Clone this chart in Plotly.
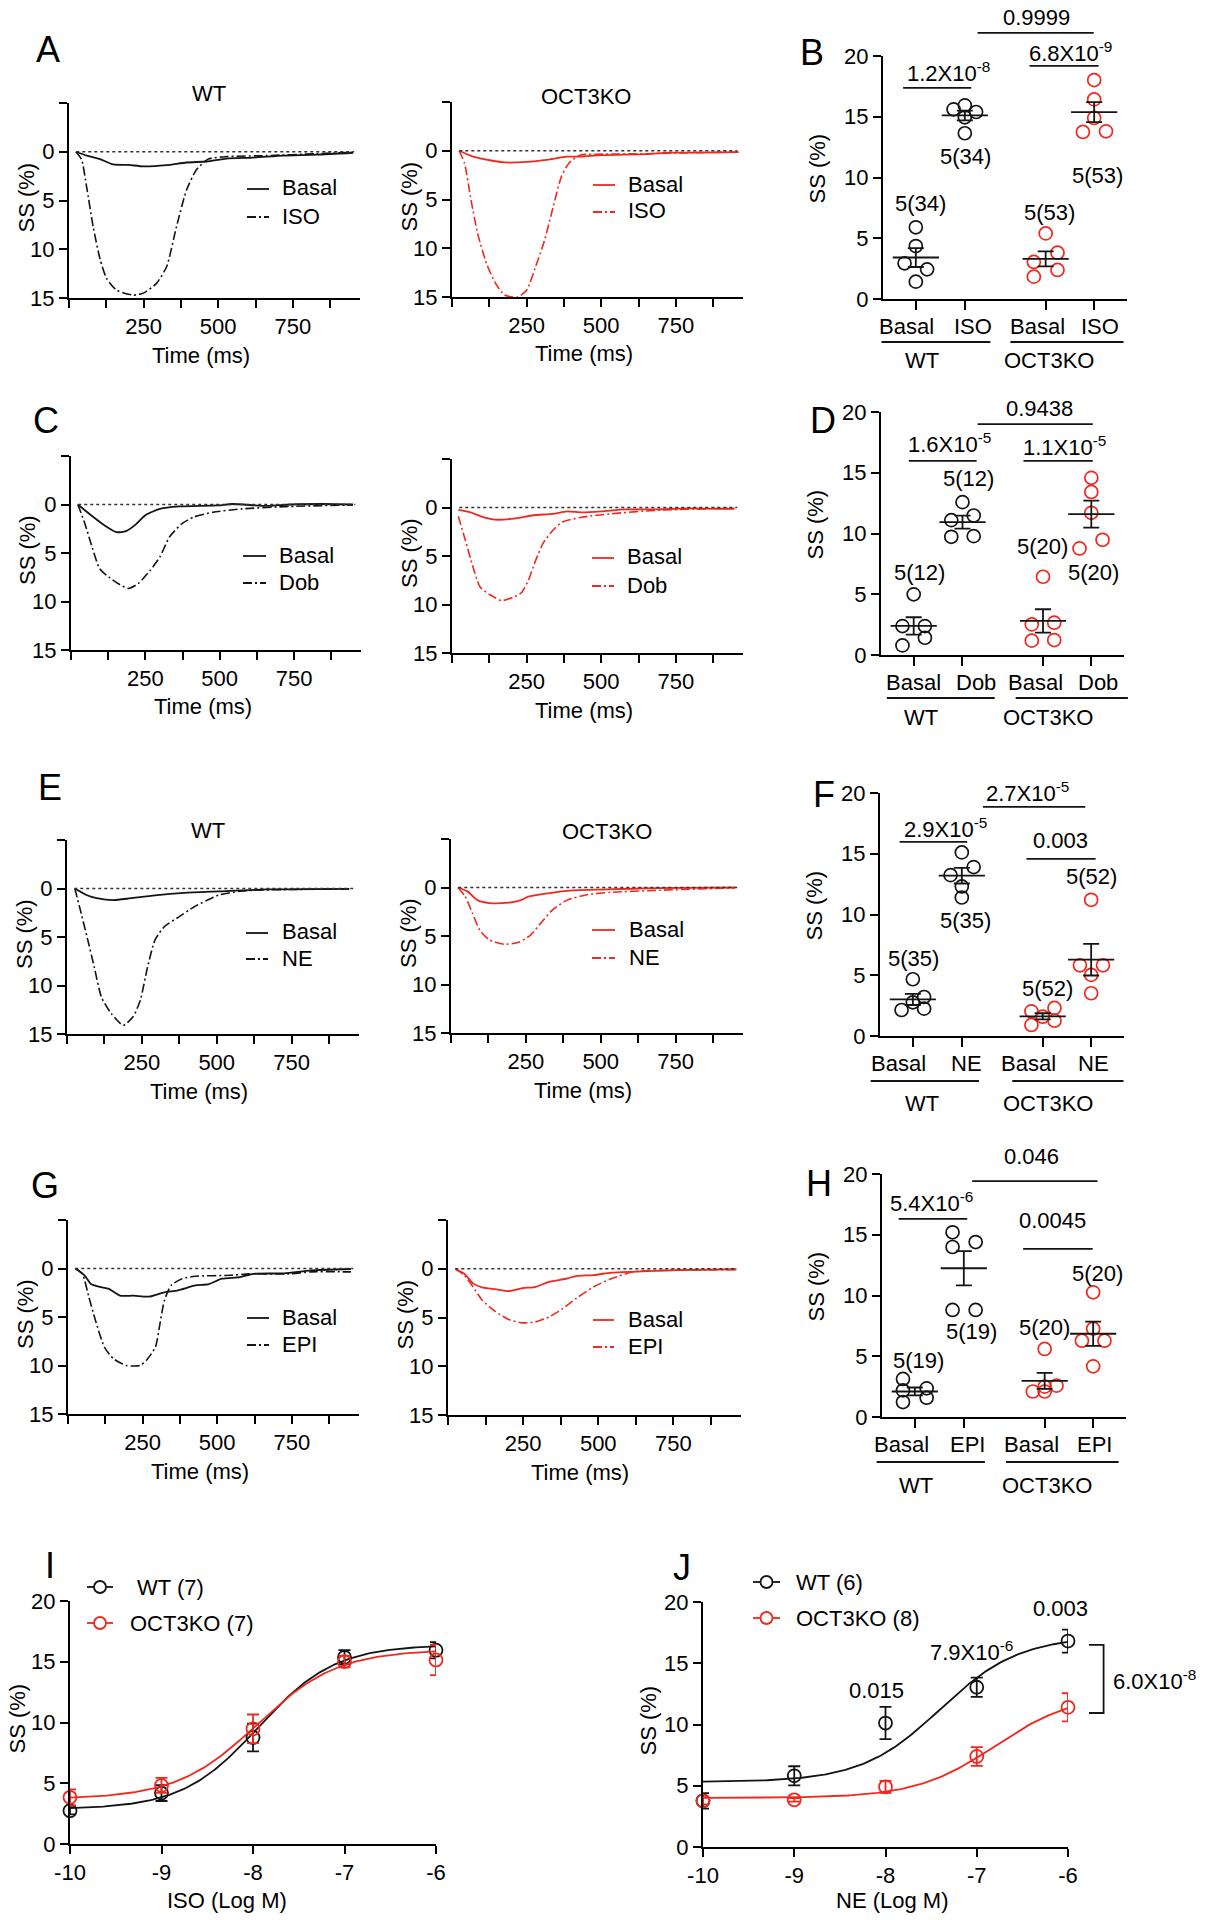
import numpy as np
import plotly.graph_objects as go

W, H = 1211, 1920
BLACK = '#141414'
RED = '#f0281e'
FONT = 'Liberation Sans, Arial, Helvetica, sans-serif'
FS = 22
DASHDOT = '9px,3px,2px,3px'

# ---------------- time-course data (Time ms, SS %) ----------------
A_WT_BASAL_T = [23, 60, 104, 148, 200, 249, 327, 394, 461, 528, 617, 718, 829, 952]
A_WT_BASAL = [0, 0.4, 0.75, 1.3, 1.35, 1.5, 1.37, 1.1, 1.0, 0.7, 0.6, 0.4, 0.3, 0.1]
A_WT_ISO_T = [23, 42, 59, 81, 104, 126, 160, 215, 249, 293, 327, 360, 394, 427, 467, 528, 662, 829, 960]
A_WT_ISO = [0, 0.8, 3.6, 7.7, 11.0, 13.0, 14.2, 14.7, 14.5, 13.5, 11.8, 7.7, 3.9, 1.85, 0.75, 0.5, 0.4, 0.2, 0.05]
A_KO_BASAL_T = [24, 71, 131, 176, 250, 324, 384, 429, 503, 652, 726, 815, 960]
A_KO_BASAL = [0, 0.6, 1.0, 1.2, 1.15, 0.9, 0.6, 0.6, 0.45, 0.35, 0.2, 0.2, 0.15]
A_KO_ISO_T = [24, 42, 64, 86, 116, 146, 176, 220, 250, 280, 310, 339, 366, 391, 429, 503, 650, 800, 960]
A_KO_ISO = [0, 1.3, 5.1, 8.5, 11.6, 13.6, 14.8, 15.0, 14.3, 11.9, 9.2, 5.75, 2.7, 1.3, 0.45, 0.35, 0.3, 0.2, 0.15]

C_WT_BASAL_T = [23, 55, 88, 120, 153, 185, 218, 250, 299, 364, 494, 542, 656, 737, 851, 948]
C_WT_BASAL = [0, 0.8, 1.6, 2.3, 2.85, 2.75, 2.05, 1.1, 0.45, 0.2, 0.1, -0.05, 0.15, 0, -0.05, 0]
C_WT_DOB_T = [23, 47, 71, 96, 128, 161, 193, 226, 266, 299, 331, 372, 412, 477, 575, 737, 948]
C_WT_DOB = [0, 2.0, 4.4, 6.6, 7.5, 8.2, 8.65, 8.15, 6.8, 5.4, 3.35, 2.0, 1.3, 0.8, 0.45, 0.2, 0.05]
C_KO_BASAL_T = [21, 62, 110, 143, 208, 273, 338, 386, 435, 500, 581, 679, 792, 946]
C_KO_BASAL = [0.25, 0.5, 1.05, 1.25, 1.15, 0.8, 0.65, 0.4, 0.5, 0.4, 0.2, 0.2, 0.1, 0.15]
C_KO_DOB_T = [21, 45, 70, 94, 127, 167, 208, 232, 256, 281, 305, 338, 370, 435, 532, 679, 946]
C_KO_DOB = [0.9, 3.4, 6.1, 8.2, 9.0, 9.6, 9.2, 8.8, 7.5, 5.4, 3.7, 2.35, 1.5, 1.0, 0.65, 0.3, 0.07]

E_WT_BASAL_T = [26, 67, 99, 156, 213, 294, 391, 505, 667, 943]
E_WT_BASAL = [0, 0.7, 1.0, 1.2, 1.0, 0.7, 0.45, 0.3, 0.1, 0.03]
E_WT_NE_T = [26, 42, 67, 91, 115, 148, 188, 221, 245, 269, 294, 326, 375, 424, 505, 586, 748, 943]
E_WT_NE = [0, 1.9, 5.0, 8.1, 11.2, 12.9, 14.1, 13.2, 11.5, 8.1, 5.3, 3.9, 2.9, 1.9, 0.7, 0.25, 0.1, 0.05]
E_KO_BASAL_T = [23, 55, 88, 128, 193, 234, 258, 323, 404, 518, 680, 948]
E_KO_BASAL = [0, 0.4, 1.3, 1.6, 1.55, 1.3, 0.95, 0.6, 0.3, 0.2, 0.07, 0]
E_KO_NE_T = [23, 47, 71, 96, 128, 177, 226, 266, 299, 339, 388, 453, 534, 680, 948]
E_KO_NE = [0, 0.9, 2.6, 4.4, 5.4, 5.85, 5.65, 4.9, 3.7, 2.3, 1.3, 0.75, 0.5, 0.3, 0.05]

G_WT_BASAL_T = [25, 55, 77, 107, 137, 174, 219, 271, 323, 368, 427, 472, 516, 576, 621, 725, 814, 948]
G_WT_BASAL = [0, 0.7, 1.6, 1.9, 2.1, 2.8, 2.8, 2.9, 2.45, 2.25, 1.75, 1.6, 1.05, 0.9, 0.55, 0.5, 0.2, 0.05]
G_WT_EPI_T = [25, 48, 70, 92, 122, 152, 196, 241, 263, 293, 308, 323, 345, 382, 427, 546, 606, 740, 814, 948]
G_WT_EPI = [0, 0.55, 2.95, 5.35, 8.1, 9.3, 10.0, 10.0, 9.45, 8.1, 5.7, 3.3, 1.75, 1.05, 0.8, 0.7, 0.55, 0.55, 0.35, 0.35]
G_KO_BASAL_T = [24, 54, 83, 113, 158, 202, 247, 292, 336, 396, 426, 485, 545, 664, 768, 960]
G_KO_BASAL = [0.05, 0.5, 1.5, 1.9, 2.1, 2.3, 2.0, 1.85, 1.35, 1.0, 0.75, 0.65, 0.4, 0.25, 0.15, 0.05]
G_KO_EPI_T = [24, 54, 83, 113, 158, 202, 247, 292, 336, 381, 426, 485, 545, 619, 738, 960]
G_KO_EPI = [0, 0.65, 1.85, 3.2, 4.4, 5.2, 5.55, 5.45, 4.95, 4.1, 3.05, 1.85, 1.0, 0.3, 0.15, 0.1]

T_TICKS = [250, 500, 750]
T_MINOR = [0, 125, 375, 625, 875]
SS_TICKS = [0, 5, 10, 15]

# ---------------- dot-plot data (SS %, 5 animals per group) ----------------
GROUPS = ['WT', 'OCT3KO']
B_CATS = ['Basal', 'ISO', 'Basal', 'ISO']
B_WT_BASAL = [5.9, 4.36, 2.94, 2.44, 1.43]
B_WT_ISO = [15.61, 15.94, 15.39, 14.95, 13.64]
B_KO_BASAL = [5.4, 3.81, 3.05, 2.39, 1.84]
B_KO_ISO = [18.02, 16.43, 14.9, 13.75, 13.8]
B_N = ['5(34)', '5(34)', '5(53)', '5(53)']
B_P = ['1.2X10<sup>-8</sup>', '6.8X10<sup>-9</sup>', '0.9999']

D_CATS = ['Basal', 'Dob', 'Basal', 'Dob']
D_WT_BASAL = [4.99, 2.38, 2.38, 1.42, 0.79]
D_WT_DOB = [12.58, 11.1, 11.48, 9.73, 9.78]
D_KO_BASAL = [6.44, 2.52, 2.66, 1.18, 1.23]
D_KO_DOB = [14.58, 13.42, 11.7, 8.77, 9.48]
D_N = ['5(12)', '5(12)', '5(20)', '5(20)']
D_P = ['1.6X10<sup>-5</sup>', '1.1X10<sup>-5</sup>', '0.9438']

F_CATS = ['Basal', 'NE', 'Basal', 'NE']
F_WT_BASAL = [4.67, 3.21, 2.77, 2.25, 2.14]
F_WT_NE = [15.11, 13.9, 13.24, 12.31, 11.4]
F_KO_BASAL = [2.31, 2.03, 1.59, 1.26, 0.91]
F_KO_NE = [11.21, 5.82, 5.82, 5.03, 3.52]
F_N = ['5(35)', '5(35)', '5(52)', '5(52)']
F_P = ['2.9X10<sup>-5</sup>', '0.003', '2.7X10<sup>-5</sup>']

H_CATS = ['Basal', 'EPI', 'Basal', 'EPI']
H_WT_BASAL = [3.13, 2.36, 2.19, 1.59, 1.23]
H_WT_EPI = [15.2, 14.4, 13.99, 8.81, 8.81]
H_KO_BASAL = [5.6, 2.58, 2.5, 2.1, 2.1]
H_KO_EPI = [10.26, 7.27, 6.28, 6.28, 4.17]
H_N = ['5(19)', '5(19)', '5(20)', '5(20)']
H_P = ['5.4X10<sup>-6</sup>', '0.0045', '0.046']

# ---------------- concentration-response data ----------------
LOG_CONC = [-10, -9, -8, -7, -6]
LOG_LABELS = ['-10', '-9', '-8', '-7', '-6']
I_WT = [2.74, 4.19, 8.77, 15.37, 15.95]
I_WT_SEM = [0.3, 0.65, 1.14, 0.58, 0.67]
I_KO = [3.84, 4.82, 9.48, 15.01, 15.15]
I_KO_SEM = [0.66, 0.62, 1.18, 0.48, 1.25]
I_WT_FIT = (2.85, 16.4, -7.94, 1.04)   # bottom, top, logEC50, hill
I_KO_FIT = (3.7, 16.0, -7.954, 0.985)
J_WT = [3.77, 5.81, 10.12, 13.04, 16.81]
J_WT_SEM = [0.63, 0.78, 1.32, 0.78, 0.94]
J_KO = [3.77, 3.85, 4.91, 7.39, 11.4]
J_KO_SEM = [0.3, 0.15, 0.49, 0.76, 1.15]
J_WT_FIT = (5.3, 17.2, -7.4, 1.0)
J_KO_FIT = (4.0, 12.5, -6.8, 1.0)
J_P = ['0.015', '7.9X10<sup>-6</sup>', '0.003', '6.0X10<sup>-8</sup>']

# ---------------- layout constants ----------------
CAT_POS = [1, 2, 3.65, 4.64]
JIT = 0.23
DOT_XR = [0.33, 5.31]

fig = go.Figure()
L = dict(width=W, height=H, margin=dict(l=0, r=0, t=0, b=0, autoexpand=False), paper_bgcolor='white',
         plot_bgcolor='white', showlegend=False,
         font=dict(family=FONT, size=FS, color='black'))
shapes, annos = [], []
counter = [0]


def px(x):
    return x / W


def py(y):
    return 1 - y / H


def text(x, y, s, size=FS, xanchor='center', yanchor='middle', angle=0, xref='paper', yref='paper'):
    annos.append(dict(x=x, y=y, xref=xref, yref=yref, text=s, showarrow=False, xanchor=xanchor,
                      yanchor=yanchor, textangle=angle,
                      font=dict(family=FONT, size=size, color='black')))


def new_axes(box, xcfg, ycfg):
    counter[0] += 1
    n = counter[0]
    sfx = '' if n == 1 else str(n)
    x0, y0, x1, y1 = box
    base = dict(showline=True, linecolor='black', linewidth=2, ticks='outside', ticklen=8,
                tickwidth=2, tickcolor='black', showgrid=False, zeroline=False, automargin=False,
                tickfont=dict(family=FONT, size=FS, color='black'), fixedrange=True)
    xa = dict(base)
    xa.update(domain=[px(x0), px(x1)], anchor='y' + sfx)
    xa.update(xcfg)
    ya = dict(base)
    ya.update(domain=[py(y1), py(y0)], anchor='x' + sfx)
    ya.update(ycfg)
    L['xaxis' + sfx] = xa
    L['yaxis' + sfx] = ya
    return 'x' + sfx, 'y' + sfx


MINOR = dict(ticks='outside', ticklen=8, tickwidth=2, tickcolor='black', showgrid=False)


# ---------------- trace panels ----------------
def trace_panel(box, bt, by, dt, dy, color, drug, leg, title=None):
    xr, yr = new_axes(box,
                      dict(range=[0, 975], tickvals=T_TICKS, minor=dict(MINOR, tickvals=T_MINOR)),
                      dict(range=[15, -5], tickvals=SS_TICKS, minor=dict(MINOR, tickvals=[-5])))
    shapes.append(dict(type='line', xref=xr + ' domain', yref=yr, x0=0.025, x1=0.98, y0=0, y1=0,
                       line=dict(color='#333333', width=1.5, dash='dot')))
    fig.add_trace(go.Scatter(x=bt, y=by, xaxis=xr, yaxis=yr, mode='lines',
                             line=dict(color=color, width=1.8, shape='spline', smoothing=0.6)))
    fig.add_trace(go.Scatter(x=dt, y=dy, xaxis=xr, yaxis=yr, mode='lines',
                             line=dict(color=color, width=1.6, dash=DASHDOT, shape='spline', smoothing=0.6)))
    x0, y0, x1, y1 = box
    text(px(x0 - 43), py((y0 + y1) / 2 - 3), 'SS (%)', angle=-90)
    text(px(x0 + 132), py(y1 + 57), 'Time (ms)')
    lx0, lx1, tx, r1, r2 = leg
    for yy, dash, lab in [(r1, 'solid', 'Basal'), (r2, DASHDOT, drug)]:
        shapes.append(dict(type='line', xref='paper', yref='paper', x0=px(lx0), x1=px(lx1),
                           y0=py(yy + 1), y1=py(yy + 1), line=dict(color=color, width=1.8, dash=dash)))
        text(px(tx), py(yy), lab, xanchor='left')
    if title:
        s, tx_, ty_ = title
        text(px(tx_), py(ty_), s)


trace_panel((69, 103, 360, 298), A_WT_BASAL_T, A_WT_BASAL, A_WT_ISO_T, A_WT_ISO, BLACK, 'ISO',
            (247, 269, 280, 188, 216), ('WT', 209, 93))
trace_panel((452, 102, 743, 297), A_KO_BASAL_T, A_KO_BASAL, A_KO_ISO_T, A_KO_ISO, RED, 'ISO',
            (593, 615, 626, 184, 211), ('OCT3KO', 586, 96))
trace_panel((71, 456, 361, 650), C_WT_BASAL_T, C_WT_BASAL, C_WT_DOB_T, C_WT_DOB, BLACK, 'Dob',
            (243, 266, 277, 555, 582))
trace_panel((452, 459, 743, 653), C_KO_BASAL_T, C_KO_BASAL, C_KO_DOB_T, C_KO_DOB, RED, 'Dob',
            (592, 614, 625, 557, 585))
trace_panel((67, 840, 359, 1034), E_WT_BASAL_T, E_WT_BASAL, E_WT_NE_T, E_WT_NE, BLACK, 'NE',
            (246, 268, 280, 932, 958), ('WT', 208, 830))
trace_panel((451, 839, 743, 1033), E_KO_BASAL_T, E_KO_BASAL, E_KO_NE_T, E_KO_NE, RED, 'NE',
            (592, 615, 627, 929, 957), ('OCT3KO', 607, 831))
trace_panel((68, 1220, 359, 1414), G_WT_BASAL_T, G_WT_BASAL, G_WT_EPI_T, G_WT_EPI, BLACK, 'EPI',
            (247, 269, 280, 1317, 1344))
trace_panel((448, 1220, 741, 1415), G_KO_BASAL_T, G_KO_BASAL, G_KO_EPI_T, G_KO_EPI, RED, 'EPI',
            (593, 614, 626, 1319, 1346))


# ---------------- dot plots ----------------
def fxd(v):
    return (v - DOT_XR[0]) / (DOT_XR[1] - DOT_XR[0])


def dot_panel(box, cats, cat_lab_x, groups, offsets, nlab, nlab_pos, ptexts, comps, grp):
    xr, yr = new_axes(box,
                      dict(range=DOT_XR, tickvals=CAT_POS, showticklabels=False, ticklen=9),
                      dict(range=[0, 20], tickvals=[0, 5, 10, 15, 20]))
    colors = [BLACK, BLACK, RED, RED]
    for i, (vals, offs) in enumerate(zip(groups, offsets)):
        xs = [CAT_POS[i] + o * JIT for o in offs]
        fig.add_trace(go.Scatter(x=xs, y=vals, xaxis=xr, yaxis=yr, mode='markers', cliponaxis=False,
                                 marker=dict(symbol='circle-open', size=13, color=colors[i],
                                             line=dict(width=1.7, color=colors[i]))))
        m = float(np.mean(vals))
        s = float(np.std(vals, ddof=1) / np.sqrt(len(vals)))
        fig.add_trace(go.Scatter(x=[CAT_POS[i]], y=[m], xaxis=xr, yaxis=yr, mode='markers', cliponaxis=False,
                                 marker=dict(symbol='line-ew', size=33, color=BLACK,
                                             line=dict(width=1.8, color=BLACK)),
                                 error_y=dict(type='data', array=[s], width=8, thickness=1.8, color=BLACK)))
    x0, y0, x1, y1 = box
    xd, yd = xr + ' domain', yr + ' domain'
    for c, cx in zip(cats, cat_lab_x):
        text(px(cx), py(y1 + 27), c)
    for s, (tx, ty) in zip(nlab, nlab_pos):
        text(fxd(tx), ty / 20, s, xref=xd, yref=yd)
    for s, (tx, ty, bx0, bx1, by) in zip(ptexts, comps):
        text(fxd(tx), ty / 20, s, xref=xd, yref=yd)
        shapes.append(dict(type='line', xref=xd, yref=yd, x0=fxd(bx0), x1=fxd(bx1), y0=by / 20, y1=by / 20,
                           line=dict(color=BLACK, width=1.8)))
    (w0, w1, k0, k1, wl, kl), dl, dlab = grp
    for a, b in [(w0, w1), (k0, k1)]:
        shapes.append(dict(type='line', xref=xd, yref='paper', x0=fxd(a), x1=fxd(b),
                           y0=py(y1 + dl), y1=py(y1 + dl), line=dict(color=BLACK, width=1.8)))
    text(fxd(wl), py(y1 + dlab), GROUPS[0], xref=xd)
    text(fxd(kl), py(y1 + dlab), GROUPS[1], xref=xd)
    text(px(x0 - 66), py((y0 + y1) / 2 - 9), 'SS (%)', angle=-90)


dot_panel((883, 56, 1127, 299), B_CATS, [906, 973, 1037, 1100],
          [B_WT_BASAL, B_WT_ISO, B_KO_BASAL, B_KO_ISO],
          [[0, 0, -1, 1, 0], [-1, 0, 1, 0, 0], [0, 1.05, -1.05, 1.05, -1.05], [0, 0, 0, -1, 1.05]],
          B_N, [(1.09, 7.82), (2.01, 11.7), (3.73, 7.08), (4.71, 10.2)], B_P,
          [(1.66, 18.7, 0.74, 2.13, 17.37), (4.16, 20.3, 3.32, 4.73, 19.18), (3.46, 23.2, 2.26, 4.63, 21.9)],
          ((0.30, 2.52, 2.93, 5.24, 1.12, 3.72), 43, 61))
dot_panel((881, 412, 1124, 655), D_CATS, [913, 976, 1035, 1098],
          [D_WT_BASAL, D_WT_DOB, D_KO_BASAL, D_KO_DOB],
          [[0, -1, 1, 1, -1], [0, -1, 1, -1, 1], [0, -1, 1, -1, 1], [0, 0, 0, -1.05, 1]],
          D_N, [(1.12, 6.75), (2.13, 14.5), (3.64, 8.9), (4.69, 6.83)], D_P,
          [(1.74, 17.45, 0.9, 2.29, 15.97), (4.09, 17.2, 3.25, 4.67, 15.97), (3.58, 20.3, 2.31, 4.67, 19.0)],
          ((0.45, 2.66, 3.09, 5.39, 1.15, 3.75), 43, 62))
dot_panel((880, 793, 1124, 1036), F_CATS, [898, 966, 1028, 1093],
          [F_WT_BASAL, F_WT_NE, F_KO_BASAL, F_KO_NE],
          [[0, 1, 0, 1, -1], [0, 1.05, -1, 0, 0], [1.05, -1, 0, 1.05, -1], [0, -1, 1.05, 0, 0]],
          F_N, [(1.02, 6.34), (2.07, 9.47), (3.75, 3.95), (4.65, 13.1)], F_P,
          [(1.66, 17.1, 0.73, 2.11, 15.97), (4.01, 16.05, 3.32, 4.73, 14.57), (3.34, 20.1, 2.43, 4.52, 18.85)],
          ((0.14, 2.35, 3.03, 5.3, 1.18, 3.75), 45, 67))
dot_panel((882, 1174, 1126, 1417), H_CATS, [901, 967, 1031, 1094],
          [H_WT_BASAL, H_WT_EPI, H_KO_BASAL, H_KO_EPI],
          [[-1.05, 1.05, -1.05, 1.05, -1.05], [-1, 1.05, -1, -1, 1.05], [0, 1.05, 0, -1.05, 0], [0, 0, -1, 1, 0]],
          H_N, [(1.08, 4.69), (2.15, 7.0), (3.64, 7.4), (4.73, 11.77)], H_P,
          [(1.35, 17.7, 0.67, 2.07, 16.3), (3.81, 16.2, 3.21, 4.63, 13.83), (3.38, 21.4, 2.17, 4.73, 19.42)],
          ((0.22, 2.43, 2.86, 5.16, 1.02, 3.7), 45, 68))


# ---------------- concentration-response panels ----------------
def logistic(x, p):
    b, t, ec, h = p
    return b + (t - b) / (1 + 10 ** ((ec - x) * h))


def cr_panel(box, wt, wts, ko, kos, wfit, kfit, xlabel, legend, ytitle_x, xtitle_x):
    xr, yr = new_axes(box,
                      dict(range=[-10, -6], tickvals=LOG_CONC, ticktext=LOG_LABELS),
                      dict(range=[0, 20], tickvals=[0, 5, 10, 15, 20]))
    xx = np.linspace(-10, -6, 200)
    for vals, sem, fit, col in [(wt, wts, wfit, BLACK), (ko, kos, kfit, RED)]:
        fig.add_trace(go.Scatter(x=xx, y=logistic(xx, fit), xaxis=xr, yaxis=yr, mode='lines',
                                 line=dict(color=col, width=1.8)))
        fig.add_trace(go.Scatter(x=LOG_CONC, y=vals, xaxis=xr, yaxis=yr, mode='markers', cliponaxis=False,
                                 marker=dict(symbol='circle-open', size=13, color=col, line=dict(width=1.8, color=col)),
                                 error_y=dict(type='data', array=sem, width=6, thickness=1.8, color=col)))
    x0, y0, x1, y1 = box
    text(px(ytitle_x), py((y0 + y1) / 2 - 4), 'SS (%)', angle=-90)
    text(px(xtitle_x), py(1900), xlabel)
    (lx0, lx1, rows) = legend
    for (yy, tx, lab), col in zip(rows, [BLACK, RED]):
        shapes.append(dict(type='line', xref='paper', yref='paper', x0=px(lx0), x1=px(lx1),
                           y0=py(yy), y1=py(yy), line=dict(color=col, width=1.8)))
        cx = (lx0 + lx1) / 2
        shapes.append(dict(type='circle', xref='paper', yref='paper', x0=px(cx - 6), x1=px(cx + 6),
                           y0=py(yy + 6), y1=py(yy - 6), fillcolor='white', line=dict(color=col, width=1.8)))
        text(px(tx), py(yy), lab, size=22, xanchor='left')
    return xr, yr


cr_panel((70, 1601, 436, 1844), I_WT, I_WT_SEM, I_KO, I_KO_SEM, I_WT_FIT, I_KO_FIT, 'ISO (Log M)',
         (87, 113, [(1587, 135, 'WT (7)'), (1623, 128, 'OCT3KO (7)')]), 17, 227)
xj, yj = cr_panel((703, 1602, 1068, 1847), J_WT, J_WT_SEM, J_KO, J_KO_SEM, J_WT_FIT, J_KO_FIT, 'NE (Log M)',
                  (753, 780, [(1582, 794, 'WT (6)'), (1618, 794, 'OCT3KO (8)')]), 648, 892)


def fxj(v):
    return (v + 10) / 4


xdj, ydj = xj + ' domain', yj + ' domain'
text(fxj(-8.1), 12.8 / 20, J_P[0], xref=xdj, yref=ydj)
text(fxj(-7.06), 16.0 / 20, J_P[1], xref=xdj, yref=ydj)
text(fxj(-6.08), 19.5 / 20, J_P[2], xref=xdj, yref=ydj)
text(fxj(-5.53), 13.6 / 20, J_P[3], xanchor='left', xref=xdj, yref=ydj)
bx, bt, bb, bl = fxj(-5.61), 16.5 / 20, 10.94 / 20, fxj(-5.77)
shapes.append(dict(type='path', xref=xdj, yref=ydj,
                   path=f'M {bl},{bt} L {bx},{bt} L {bx},{bb} L {bl},{bb}',
                   line=dict(color=BLACK, width=1.8)))

# ---------------- panel letters ----------------
for s, x, y in [('A', 48, 50), ('B', 812, 53), ('C', 46, 421), ('D', 823, 420), ('E', 50, 787),
                ('F', 824, 794), ('G', 45, 1185), ('H', 819, 1183), ('I', 50, 1565), ('J', 682, 1567)]:
    text(px(x), py(y), s, size=36)

L['shapes'] = shapes
L['annotations'] = annos
fig.update_layout(**L)
fig.write_html('out.html', config={'displayModeBar': False, 'staticPlot': True},
               post_script="document.body.style.margin='0';document.body.style.overflow='hidden';")
